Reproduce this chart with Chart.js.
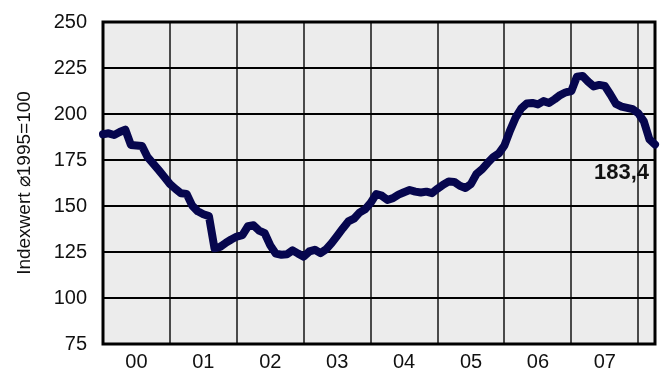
<!DOCTYPE html>
<html>
<head>
<meta charset="utf-8">
<script src="https://cdn.jsdelivr.net/npm/chart.js@4/dist/chart.umd.min.js"></script>
<style>
  html, body { margin: 0; padding: 0; background: #fff; }
  #wrap { width: 661px; height: 372px; }
</style>
</head>
<body>
<div id="wrap"><canvas id="chart"></canvas></div>
<script>
// monthly index values, Jan 2000 .. Apr 2008
const indexValues = [
    189.0, 189.5, 188.6, 190.2, 191.5, 183.2, 182.9, 182.6, 176.5, 173.0, 169.5, 165.8,
    162.0, 159.3, 156.9, 156.6, 150.2, 147.1, 145.5, 144.5, 127.0, 127.8, 129.9, 131.8,
    133.4, 134.2, 139.0, 139.5, 136.6, 135.2, 128.6, 124.1, 123.5, 123.8, 125.9, 124.1,
    122.5, 125.3, 126.2, 124.4, 126.4, 129.8, 133.8, 137.8, 141.6, 143.1, 146.4, 148.2,
    151.7, 156.5, 155.6, 153.3, 154.3, 156.2, 157.5, 158.7, 157.8, 157.3, 157.8, 157.0,
    159.4, 161.6, 163.3, 163.1, 161.0, 159.8, 162.0, 167.5, 170.0, 173.5, 176.6, 178.6,
    182.9, 191.0, 198.0, 203.0, 205.7, 206.0, 205.2, 207.0, 206.0, 208.0, 210.3, 211.8,
    212.5, 220.3, 220.7, 217.6, 215.0, 215.8, 215.3, 210.6, 205.5, 204.0, 203.3, 202.6,
    200.4, 196.0, 186.2, 183.4
];
const yearLabels = ["00", "01", "02", "03", "04", "05", "06", "07"];
const lastLabel = "183,4";

const points = indexValues.map((v, i) => ({ x: i, y: v }));
const FONT = "'Liberation Sans', Arial, sans-serif";

// grey plot background + black frame around the chart area
const framePlugin = {
    id: "frame",
    beforeDraw(chart) {
        const { ctx, chartArea: a } = chart;
        ctx.save();
        ctx.fillStyle = "#ececec";
        ctx.fillRect(a.left, a.top, a.right - a.left, a.bottom - a.top);
        ctx.restore();
    },
    beforeDatasetsDraw(chart) {
        const { ctx, chartArea: a } = chart;
        ctx.save();
        ctx.strokeStyle = "#000";
        ctx.lineWidth = 3;
        ctx.strokeRect(a.left, a.top, a.right - a.left, a.bottom - a.top);
        ctx.restore();
    },
    afterDatasetsDraw(chart) {
        const meta = chart.getDatasetMeta(0);
        const last = meta.data[meta.data.length - 1];
        const ctx = chart.ctx;
        ctx.save();
        ctx.font = "bold 22px " + FONT;
        ctx.fillStyle = "#111";
        ctx.textAlign = "right";
        ctx.textBaseline = "middle";
        ctx.fillText(lastLabel, last.x - 6, last.y + 28);
        ctx.restore();
    }
};

new Chart(document.getElementById("chart"), {
    type: "line",
    data: {
        datasets: [{
            data: points,
            borderColor: "#06064e",
            borderWidth: 8,
            borderCapStyle: "round",
            borderJoinStyle: "round",
            pointRadius: 0,
            tension: 0,
            clip: false,
        }]
    },
    options: {
        responsive: true,
        maintainAspectRatio: false,
        animation: false,
        layout: { padding: { top: 22, right: 6, left: 0, bottom: 0 } },
        plugins: {
            legend: { display: false },
            tooltip: { enabled: false },
        },
        scales: {
            x: {
                type: "linear",
                min: 0,
                max: indexValues.length - 1,
                afterBuildTicks(scale) {
                    const t = [];
                    for (let v = 0; v <= yearLabels.length * 12; v += 6) t.push({ value: v });
                    scale.ticks = t;
                },
                afterFit(scale) {
                    scale.height = 28;
                    scale.paddingLeft = 0;
                    scale.paddingRight = 0;
                },
                border: { display: false },
                grid: {
                    drawTicks: false,
                    lineWidth: 2,
                    color: (c) => (c.tick && c.tick.value % 12 === 0 && c.tick.value > 0) ? "#4a4a4a" : "rgba(0,0,0,0)",
                },
                ticks: {
                    autoSkip: false,
                    maxRotation: 0,
                    padding: 6,
                    color: "#111",
                    font: { family: FONT, size: 20 },
                    callback: (v) => (v % 12 === 6) ? yearLabels[(v - 6) / 12] : "",
                },
            },
            y: {
                min: 75,
                max: 250,
                afterFit(scale) {
                    scale.width = 103;
                    scale.paddingTop = 0;
                    scale.paddingBottom = 0;
                },
                border: { display: false },
                grid: { drawTicks: false, lineWidth: 2, color: "#000" },
                ticks: {
                    stepSize: 25,
                    padding: 16,
                    color: "#111",
                    font: { family: FONT, size: 20 },
                },
                title: {
                    display: true,
                    text: "Indexwert \u23001995=100",
                    color: "#111",
                    font: { family: FONT, size: 19 },
                    padding: { top: 13, bottom: 0 },
                },
            },
        },
    },
    plugins: [framePlugin],
});
</script>
</body>
</html>
